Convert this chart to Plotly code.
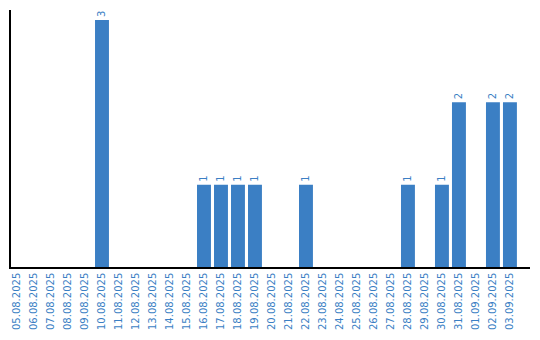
import plotly.graph_objects as go

dates = ["05.08.2025", "06.08.2025", "07.08.2025", "08.08.2025", "09.08.2025",
         "10.08.2025", "11.08.2025", "12.08.2025", "13.08.2025", "14.08.2025",
         "15.08.2025", "16.08.2025", "17.08.2025", "18.08.2025", "19.08.2025",
         "20.08.2025", "21.08.2025", "22.08.2025", "23.08.2025", "24.08.2025",
         "25.08.2025", "26.08.2025", "27.08.2025", "28.08.2025", "29.08.2025",
         "30.08.2025", "31.08.2025", "01.09.2025", "02.09.2025", "03.09.2025"]
counts = [0, 0, 0, 0, 0,
          3, 0, 0, 0, 0,
          0, 1, 1, 1, 1,
          0, 0, 1, 0, 0,
          0, 0, 0, 1, 0,
          1, 2, 0, 2, 2]

labels = [str(v) if v > 0 else "" for v in counts]

blue = "#3b7fc4"

fig = go.Figure(go.Bar(
    x=dates, y=counts,
    marker=dict(color=blue, line=dict(width=0)),
    text=labels, textposition="outside", textangle=-90,
    textfont=dict(family="DejaVu Sans", size=10, color=blue),
    cliponaxis=False,
))

fig.update_layout(
    width=540, height=340,
    margin=dict(l=11, r=10, t=10, b=70),
    paper_bgcolor="white", plot_bgcolor="white",
    bargap=0.18,
    showlegend=False,
    font=dict(family="DejaVu Sans", size=10, color=blue),
)
fig.update_xaxes(
    type="category", range=[-0.353, 30.18],
    showline=True, linecolor="black", linewidth=1.5,
    showgrid=False, ticks="", tickangle=-90,
    tickfont=dict(family="DejaVu Sans", size=10, color=blue),
)
fig.update_yaxes(
    range=[0, 3.12], showline=True, linecolor="black", linewidth=1.5,
    showgrid=False, zeroline=False, showticklabels=False, ticks="",
)

fig.write_html("out.html")
